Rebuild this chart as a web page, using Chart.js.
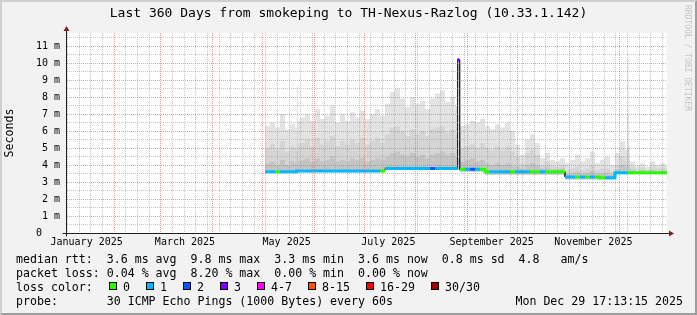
<!DOCTYPE html>
<html>
<head>
<meta charset="utf-8">
<title>smokeping TH-Nexus-Razlog</title>
<script src="https://cdn.jsdelivr.net/npm/chart.js@4.4.0/dist/chart.umd.min.js"></script>
<style>
  html, body { margin: 0; padding: 0; background: #f2f2f2; }
  #wrap { position: relative; width: 697px; height: 315px; background: #f2f2f2; overflow: hidden;
          font-family: "DejaVu Sans Mono", monospace; color: #000; }
  #chart { position: absolute; left: 0; top: 0; }
  .row { position: absolute; font-size: 11.6px; line-height: 14px; white-space: pre; }
  .box { position: absolute; width: 6px; height: 6px; border: 1px solid #000; }
  #frame { position: absolute; left: 0; top: 0; width: 697px; height: 315px; box-sizing: border-box;
           border-top: 2px solid #cfcfcf; border-left: 2px solid #cfcfcf;
           border-right: 2px solid #9e9e9e; border-bottom: 2px solid #9e9e9e; pointer-events: none; }
  #credit { position: absolute; left: 683px; top: 5px; writing-mode: vertical-rl; font-size: 8px;
            line-height: 9px; color: #c4c4c4; white-space: pre; }
</style>
</head>
<body>
<div id="wrap">
  <canvas id="chart" width="697" height="315"></canvas>
  <div id="credit">RRDTOOL / TOBI OETIKER</div>
  <div id="legend"></div>
  <div id="frame"></div>
</div>
<script>
// time axis in days since Jan 1 2025 00:00 (last 360 days up to Dec 29 17:13)
const rangeStart = 2.717;
const rangeEnd = 362.717;
const monthStarts = [31, 59, 90, 120, 151, 181, 212, 243, 273, 304, 334];
const labelDays = [14.5, 73.5, 134.5, 195.5, 257.5, 318.5];
const labelNames = ["January 2025", "March 2025", "May 2025", "July 2025", "September 2025", "November 2025"];

// smoke buckets (start day of each bucket)
const days = [
  121.5, 124.5, 127.5, 130.5, 133.5, 136.5, 139.5, 140.5, 141.2, 142.5,
  145.5, 148.5, 151.5, 154.5, 157.5, 160.5, 163.5, 166.5, 169.5, 172.5,
  175.5, 178.5, 181.5, 184.5, 187.5, 190.5, 193.5, 196.5, 199.5, 202.5,
  205.5, 208.5, 211.5, 214.5, 217.5, 220.5, 223.5, 226.5, 229.5, 232.5,
  235.5, 237, 238, 238.5, 241.5, 244.5, 247.5, 250.5, 253.5, 256.5,
  259.5, 262.5, 265.5, 268.5, 271.5, 274.5, 277.5, 280.5, 283.5, 286.5,
  289.5, 292.5, 295.5, 298.5, 301.5, 304.5, 307.5, 310.5, 313.5, 316.5,
  319.5, 322.5, 325.5, 328.5, 331.5, 334.5, 337.5, 339, 339.6, 340.5,
  343.5, 346.5, 349.5, 352.5, 355.5, 358.5, 361.5
];

// values in ms
const smokeTop = [
  6.3, 6.5, 6.2, 7.0, 6.1, 6.4, 6.2, 8.6, 6.6, 6.8,
  7.0, 6.6, 7.3, 6.7, 6.9, 7.5, 6.5, 7.0, 6.6, 7.1,
  6.8, 7.2, 6.7, 7.0, 7.3, 6.9, 7.6, 8.3, 8.5, 7.9,
  7.4, 8.0, 7.6, 7.8, 7.3, 7.9, 8.2, 8.4, 7.7, 8.0,
  7.5, 7.0, 6.5, 6.3, 6.4, 6.6, 6.5, 6.7, 6.3, 6.1,
  6.4, 6.2, 6.5, 6.0, 5.2, 4.6, 5.5, 5.8, 5.3, 4.4,
  4.7, 4.3, 4.2, 4.4, 4.1, 4.3, 4.6, 4.2, 4.4, 4.8,
  4.1, 4.3, 4.5, 4.0, 4.7, 5.4, 4.9, 10.3, 5.1, 4.2,
  4.0, 4.1, 3.9, 4.2, 4.0, 4.1, 4.0
];
const smokeMid = [
  5.0, 5.2, 4.9, 5.4, 4.8, 5.1, 5.0, 6.0, 5.2, 5.3,
  5.5, 5.1, 5.6, 5.2, 5.4, 5.7, 5.1, 5.4, 5.2, 5.5,
  5.3, 5.6, 5.2, 5.4, 5.6, 5.3, 5.8, 6.2, 6.3, 6.0,
  5.7, 6.1, 5.8, 6.0, 5.7, 6.1, 6.2, 6.3, 5.9, 6.1,
  5.8, 5.5, 5.2, 5.0, 5.1, 5.2, 5.0, 5.3, 5.0, 4.9,
  5.1, 4.9, 5.1, 4.8, 4.5, 4.1, 4.7, 4.9, 4.6, 4.0,
  4.2, 3.95, 3.9, 4.0, 3.7, 3.8, 3.9, 3.7, 3.8, 4.0,
  3.7, 3.8, 3.8, 3.6, 4.0, 4.5, 4.2, 7.0, 4.3, 3.9,
  3.8, 3.85, 3.75, 3.9, 3.8, 3.85, 3.8
];
const smokeInner = [
  4.1, 4.2, 4.0, 4.3, 4.0, 4.2, 4.1, 4.8, 4.2, 4.3,
  4.4, 4.2, 4.4, 4.2, 4.3, 4.5, 4.2, 4.3, 4.2, 4.4,
  4.3, 4.4, 4.2, 4.3, 4.4, 4.3, 4.5, 4.7, 4.8, 4.6,
  4.5, 4.7, 4.5, 4.6, 4.4, 4.6, 4.7, 4.8, 4.6, 4.7,
  4.5, 4.4, 4.3, 4.2, 4.3, 4.4, 4.2, 4.3, 4.1, 4.0,
  4.1, 4.0, 4.1, 3.95, 3.9, 3.8, 4.0, 4.1, 3.95, 3.8,
  3.85, 3.75, 3.75, 3.8, 3.5, 3.55, 3.6, 3.5, 3.55, 3.65,
  3.5, 3.5, 3.55, 3.45, 3.75, 4.0, 3.85, 5.0, 3.9, 3.7,
  3.65, 3.7, 3.65, 3.7, 3.65, 3.7, 3.65
];
const smokeLow = [
  3.52, 3.52, 3.52, 3.52, 3.52, 3.52, 3.52, 3.57, 3.57, 3.57,
  3.57, 3.57, 3.57, 3.57, 3.57, 3.57, 3.57, 3.57, 3.57, 3.57,
  3.57, 3.57, 3.57, 3.57, 3.57, 3.57, 3.7, 3.7, 3.7, 3.7,
  3.7, 3.7, 3.7, 3.7, 3.7, 3.7, 3.7, 3.7, 3.7, 3.7,
  3.7, 3.7, 3.65, 3.6, 3.6, 3.6, 3.6, 3.6, 3.42, 3.42,
  3.42, 3.42, 3.42, 3.42, 3.42, 3.42, 3.42, 3.42, 3.42, 3.42,
  3.42, 3.42, 3.42, 3.42, 3.15, 3.15, 3.15, 3.15, 3.15, 3.15,
  3.15, 3.15, 3.15, 3.15, 3.45, 3.45, 3.45, 3.45, 3.45, 3.45,
  3.45, 3.45, 3.45, 3.45, 3.45, 3.45, 3.45
];
const median = [
  3.6, 3.6, 3.6, 3.6, 3.6, 3.6, 3.6, 3.65, 3.65, 3.65,
  3.65, 3.65, 3.65, 3.65, 3.65, 3.65, 3.65, 3.65, 3.65, 3.65,
  3.65, 3.65, 3.65, 3.65, 3.65, 3.65, 3.8, 3.8, 3.8, 3.8,
  3.8, 3.8, 3.8, 3.8, 3.8, 3.8, 3.8, 3.8, 3.8, 3.8,
  3.8, 10.2, 3.75, 3.75, 3.75, 3.75, 3.75, 3.75, 3.6, 3.6,
  3.6, 3.6, 3.6, 3.6, 3.6, 3.6, 3.6, 3.6, 3.6, 3.6,
  3.6, 3.6, 3.6, 3.6, 3.3, 3.3, 3.3, 3.3, 3.3, 3.3,
  3.3, 3.25, 3.25, 3.25, 3.55, 3.55, 3.55, 3.55, 3.55, 3.55,
  3.55, 3.55, 3.55, 3.55, 3.55, 3.55, 3.55
];
// loss class per bucket (index into lossNames)
const loss = [
  1, 1, 0, 1, 1, 1, 1, 1, 1, 1,
  1, 1, 1, 1, 1, 1, 1, 1, 1, 1,
  1, 1, 1, 1, 1, 0, 1, 1, 1, 1,
  1, 1, 1, 1, 1, 2, 1, 1, 1, 1,
  1, 3, 1, 0, 1, 2, 1, 0, 0, 1,
  1, 1, 1, 0, 1, 1, 1, 0, 0, 1,
  0, 0, 0, 0, 1, 1, 0, 1, 0, 1,
  0, 0, 1, 1, 1, 1, 1, 0, 0, 0,
  0, 0, 0, 0, 0, 0, 0
];
const lossNames = ["0", "1", "2", "3", "4-7", "8-15", "16-29", "30/30"];
const lossColors = ["#26ff00", "#00b8ff", "#0059ff", "#7e00ff", "#ff00ff", "#ff5500", "#ff0000", "#a10000"];

const FONT = "DejaVu Sans Mono";
Chart.defaults.font.family = FONT;

function bucketEnd(i) {
  return i + 1 < days.length ? days[i + 1] : rangeEnd;
}

// two points per bucket so the line is a staircase like rrdtool
function steps(values) {
  const pts = [];
  values.forEach((v, i) => {
    pts.push({ x: days[i], y: v }, { x: bucketEnd(i), y: v });
  });
  return pts;
}

function lossSteps(cat) {
  const pts = [];
  median.forEach((v, i) => {
    if (loss[i] !== cat) return;
    pts.push({ x: days[i], y: v }, { x: bucketEnd(i), y: v });
    if (loss[i + 1] !== cat) pts.push({ x: bucketEnd(i), y: null });
  });
  return pts;
}

// grid positions: weekly lines + month lines + label anchors
const weekLines = [];
for (let d = 3; d < rangeEnd; d += 7) weekLines.push(d);
const tickDays = [...new Set([...weekLines, ...monthStarts, ...labelDays])].sort((a, b) => a - b);

const MAJOR = "rgba(222, 79, 79, 0.55)";
const MINOR = "rgba(143, 143, 143, 0.5)";

function smoke(values, color, order) {
  return {
    data: steps(values),
    borderWidth: 0,
    pointRadius: 0,
    fill: "origin",
    backgroundColor: color,
    order: order
  };
}

const datasets = [
  smoke(smokeTop, "#e3e3e3", 20),
  smoke(smokeMid, "#d5d5d5", 19),
  smoke(smokeInner, "#c4c4c4", 18),
  smoke(smokeLow, "#ffffff", 17),
  {
    data: steps(median),
    borderColor: "#202020",
    borderWidth: 1,
    pointRadius: 0,
    fill: false,
    order: 16
  }
];
lossColors.forEach((c, k) => {
  datasets.push({
    data: lossSteps(k),
    borderColor: c,
    borderWidth: 3,
    borderCapStyle: "butt",
    pointRadius: 0,
    fill: false,
    spanGaps: false,
    order: 10 - k
  });
});

const plotBackground = {
  id: "plotBackground",
  beforeDraw(chart) {
    const { ctx, chartArea: a } = chart;
    ctx.save();
    ctx.fillStyle = "#ffffff";
    ctx.fillRect(a.left, a.top, a.right - a.left, a.bottom - a.top);
    ctx.restore();
  }
};

const axisArrows = {
  id: "axisArrows",
  afterDraw(chart) {
    const { ctx, chartArea: a } = chart;
    const x0 = a.left - 0.5;
    const y0 = a.bottom + 0.5;
    ctx.save();
    ctx.strokeStyle = "#1f1f1f";
    ctx.lineWidth = 1;
    ctx.beginPath();
    ctx.moveTo(x0, y0 + 3);
    ctx.lineTo(x0, a.top - 3);
    ctx.moveTo(x0 - 4, y0);
    ctx.lineTo(a.right + 3, y0);
    ctx.stroke();
    ctx.fillStyle = "#801f1f";
    ctx.beginPath();
    ctx.moveTo(x0 - 3, a.top - 2);
    ctx.lineTo(x0 + 3, a.top - 2);
    ctx.lineTo(x0, a.top - 7);
    ctx.closePath();
    ctx.fill();
    ctx.beginPath();
    ctx.moveTo(a.right + 2, y0 - 3);
    ctx.lineTo(a.right + 2, y0 + 3);
    ctx.lineTo(a.right + 7, y0);
    ctx.closePath();
    ctx.fill();
    ctx.restore();
  }
};

new Chart(document.getElementById("chart").getContext("2d"), {
  type: "line",
  data: { datasets: datasets },
  options: {
    responsive: false,
    animation: false,
    devicePixelRatio: 1,
    layout: { padding: { left: 0, right: 0, top: 0, bottom: 62 } },
    elements: { line: { tension: 0 } },
    plugins: {
      legend: { display: false },
      tooltip: { enabled: false },
      title: {
        display: true,
        text: "Last 360 Days from smokeping to TH-Nexus-Razlog (10.33.1.142)",
        color: "#000",
        font: { family: FONT, size: 13, weight: "normal" },
        padding: { top: 6, bottom: 11.4 }
      }
    },
    scales: {
      x: {
        type: "linear",
        min: rangeStart,
        max: rangeEnd,
        afterBuildTicks: (scale) => {
          scale.ticks = tickDays.map((v) => ({ value: v }));
        },
        afterFit: (scale) => {
          scale.height = 20;
        },
        ticks: {
          autoSkip: false,
          maxRotation: 0,
          minRotation: 0,
          padding: 3,
          color: "#000",
          font: { family: FONT, size: 10 },
          callback: (v) => {
            const k = labelDays.indexOf(v);
            return k >= 0 ? labelNames[k] : "";
          }
        },
        grid: {
          z: 1,
          drawTicks: false,
          lineWidth: 1,
          color: (ctx) => {
            const v = ctx.tick && ctx.tick.value;
            if (monthStarts.includes(v)) return MAJOR;
            if (weekLines.includes(v)) return MINOR;
            return "rgba(0,0,0,0)";
          }
        },
        border: { display: false, dash: [1, 1] }
      },
      y: {
        min: 0,
        max: 11.765,
        afterFit: (scale) => {
          scale.width = 67;
        },
        ticks: {
          stepSize: 0.5,
          autoSkip: false,
          includeBounds: false,
          padding: 7,
          color: "#000",
          font: { family: FONT, size: 10 },
          callback: (v) => {
            if (v % 1 !== 0) return "";
            return v === 0 ? "0   " : v + " m";
          }
        },
        grid: {
          z: 1,
          drawTicks: false,
          lineWidth: 1,
          color: (ctx) => (ctx.tick && ctx.tick.value % 1 === 0 ? MAJOR : MINOR)
        },
        border: { display: false, dash: [1, 1] },
        title: {
          display: true,
          text: "Seconds",
          color: "#000",
          font: { family: FONT, size: 11.6 },
          padding: { top: 3, bottom: 0 }
        }
      },
      // empty right margin so the title is centred on the whole image
      yRight: {
        position: "right",
        min: 0,
        max: 11.765,
        afterFit: (scale) => {
          scale.width = 30;
        },
        ticks: { display: false },
        grid: { display: false },
        border: { display: false }
      }
    }
  },
  plugins: [plotBackground, axisArrows]
});

// legend rows under the graph
const legend = document.getElementById("legend");
function addText(text, left, top, right) {
  const el = document.createElement("div");
  el.className = "row";
  el.textContent = text;
  el.style.top = top + "px";
  if (right !== undefined) el.style.right = right + "px";
  else el.style.left = left + "px";
  legend.appendChild(el);
  return el;
}
addText("median rtt:  3.6 ms avg  9.8 ms max  3.3 ms min  3.6 ms now  0.8 ms sd  4.8   am/s", 16, 251.5);
addText("packet loss: 0.04 % avg  8.20 % max  0.00 % min  0.00 % now", 16, 265.5);
addText("loss color:", 16, 279.5);
let bx = 109;
lossNames.forEach((name, k) => {
  const b = document.createElement("div");
  b.className = "box";
  b.style.left = bx + "px";
  b.style.top = "282px";
  b.style.background = lossColors[k];
  legend.appendChild(b);
  addText(name, bx + 14, 279.5);
  bx += 14 + name.length * 7 + 16;
});
addText("probe:       30 ICMP Echo Pings (1000 Bytes) every 60s", 16, 294);
addText("Mon Dec 29 17:13:15 2025", 0, 294, 14);
</script>
</body>
</html>
